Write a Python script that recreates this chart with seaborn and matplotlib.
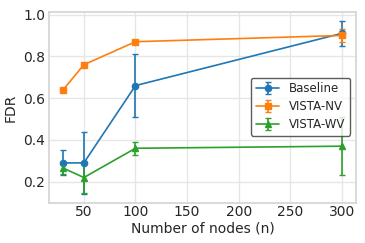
import matplotlib
matplotlib.use("Agg")
import matplotlib.pyplot as plt
import seaborn as sns
import numpy as np

nodes = [30, 50, 100, 300]
baseline = [0.29, 0.29, 0.66, 0.91]
baseline_err = [0.06, 0.15, 0.15, 0.06]
nv = [0.64, 0.76, 0.87, 0.90]
nv_err = [0.005, 0.005, 0.005, 0.03]
wv = [0.265, 0.22, 0.36, 0.37]
wv_err = [0.03, 0.075, 0.03, 0.14]
series_names = ["Baseline", "VISTA-NV", "VISTA-WV"]

sns.set_theme(style="whitegrid")
plt.rcParams['font.family'] = ['DejaVu Sans']
pal = sns.color_palette("tab10")

fig, ax = plt.subplots(figsize=(3.65, 2.43), dpi=100)
markers = ["o", "s", "^"]
for name, vals, errs, m, c in zip(series_names, [baseline, nv, wv],
                                  [baseline_err, nv_err, wv_err], markers, pal[:3]):
    ax.errorbar(nodes, vals, yerr=errs, marker=m, color=c, label=name,
                capsize=2.5, markersize=4.5, linewidth=1.2, elinewidth=1.2)

ax.set_xlabel("Number of nodes (n)", fontsize=10, labelpad=2)
ax.set_ylabel("FDR", fontsize=10, labelpad=4)
ax.tick_params(labelsize=10, length=0)
ax.tick_params(axis="x", pad=1.5)
ax.tick_params(axis="y", pad=3)
ax.set_yticks([0.2, 0.4, 0.6, 0.8, 1.0])
ax.set_xticks([50, 100, 150, 200, 250, 300])
ax.grid(color="#e6e6e6")
for s in ax.spines.values():
    s.set_color("#d5d5d5")
leg = ax.legend(loc="center right", fontsize=8.5, frameon=True,
                labelspacing=0.4, bbox_to_anchor=(1.0, 0.505))
leg.get_frame().set_edgecolor("#333333")
leg.get_frame().set_linewidth(1.0)
fig.subplots_adjust(left=0.135, right=0.975, top=0.95, bottom=0.165)
fig.savefig("out.png", dpi=100)
